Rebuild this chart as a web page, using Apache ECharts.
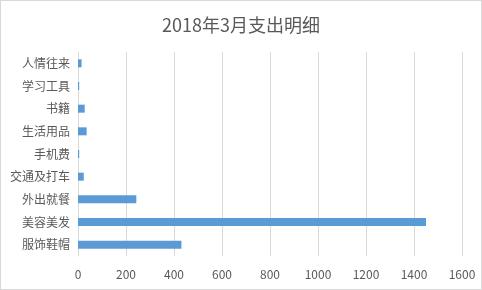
<!DOCTYPE html>
<html>
<head>
<meta charset="utf-8">
<script src="https://cdn.jsdelivr.net/npm/echarts@6/dist/echarts.min.js"></script>
<style>
html,body{margin:0;padding:0;background:#fff;}
#c{width:482px;height:290px;box-sizing:border-box;border:1px solid #d9d9d9;}
</style>
</head>
<body>
<div id="c"></div>
<script>
const titleText = "2018年3月支出明细";
const categories = ["人情往来","学习工具","书籍","生活用品","手机费","交通及打车","外出就餐","美容美发","服饰鞋帽"];
const values = [15, 5, 28, 36, 5, 24, 243, 1450, 431];
const xTicks = [0, 200, 400, 600, 800, 1000, 1200, 1400, 1600];

const font = '"Noto Sans CJK SC", "Microsoft YaHei", sans-serif';
const chart = echarts.init(document.getElementById('c'), null, {renderer:'canvas'});
chart.setOption({
  animation:false,
  title:{text:titleText,left:'center',top:10,
    textStyle:{fontFamily:font,fontSize:18,fontWeight:'normal',color:'#595959'}},
  grid:{left:77,right:19,top:51,bottom:33,containLabel:false},
  xAxis:{type:'value',min:xTicks[0],max:xTicks[xTicks.length-1],interval:200,
    axisLine:{show:false},axisTick:{show:false},
    splitLine:{lineStyle:{color:'#d9d9d9',width:1}},
    axisLabel:{fontFamily:font,fontSize:12,color:'#595959',margin:12,
      formatter:function(v){return String(v);}}},
  yAxis:{type:'category',data:categories,inverse:true,
    axisLine:{show:true,lineStyle:{color:'#d9d9d9'}},axisTick:{show:false},
    axisLabel:{fontFamily:font,fontSize:12,color:'#595959',margin:8}},
  series:[{type:'bar',data:values,barWidth:8,itemStyle:{color:'#5b9bd5'}}]
});
</script>
</body>
</html>
